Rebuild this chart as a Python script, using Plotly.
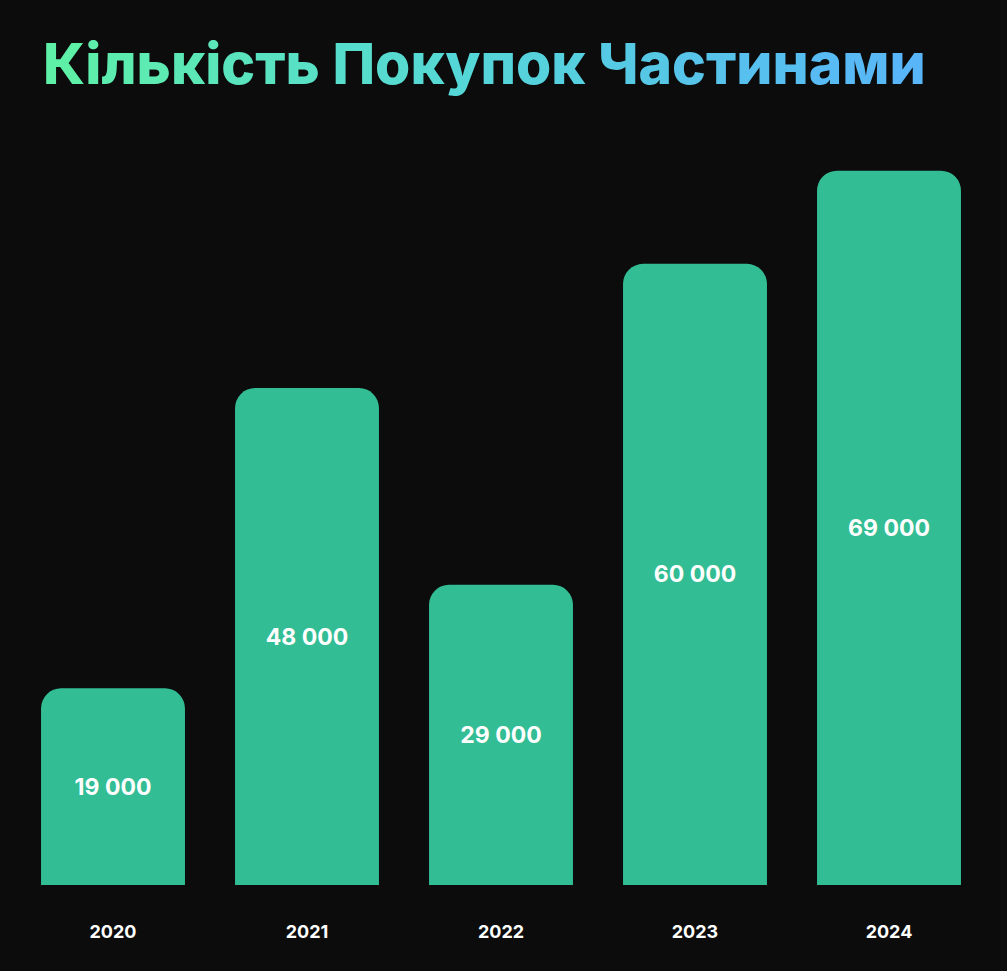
import plotly.graph_objects as go

years = ["2020", "2021", "2022", "2023", "2024"]
purchases = [19000, 48000, 29000, 60000, 69000]
value_labels = ["19 000", "48 000", "29 000", "60 000", "69 000"]
title_text = "Кількість Покупок Частинами"

BG = "#0c0c0c"
BAR = "#33bd94"
FONT = "Inter"

def lerp(c1, c2, t):
    return tuple(round(a + (b - a) * t) for a, b in zip(c1, c2))

start, mid, end = (95, 240, 168), (85, 215, 215), (88, 182, 248)
parts = []
n = len(title_text)
for i, ch in enumerate(title_text):
    t = i / (n - 1)
    c = lerp(start, mid, t * 2) if t < 0.5 else lerp(mid, end, (t - 0.5) * 2)
    parts.append(f"<span style='color:rgb{c}'>{ch}</span>")
title_html = "".join(parts)

fig = go.Figure(go.Bar(
    x=years, y=purchases, text=value_labels, textposition="inside",
    insidetextanchor="middle",
    textfont=dict(family=FONT, size=23, color="white", weight=700),
    marker=dict(color=BAR, cornerradius=20, line=dict(width=0)),
    width=0.742, hoverinfo="skip",
))

fig.update_layout(
    width=1007, height=971,
    paper_bgcolor=BG, plot_bgcolor=BG,
    margin=dict(l=16, r=21, t=150, b=86),
    showlegend=False,
    annotations=[dict(
        text=title_html, xref="paper", yref="paper", x=0.026, y=1.118,
        xanchor="left", yanchor="middle", showarrow=False,
        font=dict(family=FONT, size=57, weight=800),
    )],
)
fig.update_xaxes(showgrid=False, zeroline=False, showline=False,
                 tickfont=dict(family=FONT, size=18, color="white", weight=700),
                 ticks="outside", ticklen=30, tickcolor=BG, range=[-0.5, 4.5])
fig.update_yaxes(visible=False, range=[0, 71000])

fig.write_html(
    "out.html",
    config={"displayModeBar": False},
    post_script="document.body.style.margin='0';document.body.style.background='#0c0c0c';",
)
